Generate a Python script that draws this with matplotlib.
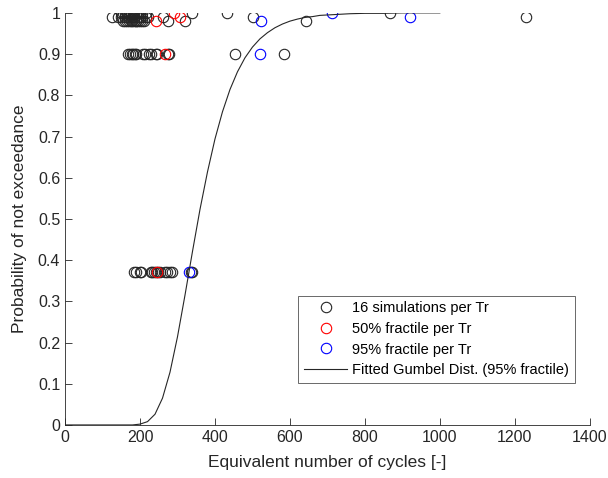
import numpy as np
import matplotlib
matplotlib.use("Agg")
import matplotlib.pyplot as plt

plt.rcParams["font.family"] = ["Liberation Sans", "DejaVu Sans"]

# probability level per return period
p_levels = [0.37, 0.9, 0.98, 0.99, 1.0]

# 16 simulations per Tr (equivalent number of cycles)
sims = [
    [185, 190, 200, 203, 228, 232, 238, 242, 248, 252, 268, 272, 280, 285, 335, 338],
    [168, 172, 178, 182, 187, 190, 208, 212, 225, 230, 243, 246, 275, 278, 453, 584],
    [155, 160, 165, 170, 175, 178, 185, 190, 195, 200, 205, 210, 276, 320, 644, 190],
    [125, 140, 150, 160, 165, 170, 178, 185, 195, 205, 215, 222, 262, 502, 1231, 200],
    [150, 155, 160, 165, 175, 180, 185, 195, 200, 205, 215, 338, 433, 868, 170, 190],
]
# 50% and 95% fractile per Tr
frac50 = [245, 267, 243, 307, 291]
frac95 = [330, 520, 524, 920, 711]

# fitted Gumbel curve
gumbel_x = [0, 100, 180, 200, 220, 240, 260, 280, 300, 320, 340, 360, 380, 400,
            420, 440, 460, 480, 500, 520, 540, 560, 580, 600, 620, 640, 660, 680,
            700, 720, 740, 760, 800, 850, 900, 950, 1000]
gumbel_y = [0, 0, 0, 0.002, 0.008, 0.026, 0.065, 0.128, 0.214, 0.315, 0.421, 0.523,
            0.614, 0.694, 0.760, 0.814, 0.857, 0.891, 0.917, 0.937, 0.952, 0.964,
            0.973, 0.980, 0.985, 0.989, 0.991, 0.994, 0.995, 0.996, 0.997, 0.998,
            0.999, 0.999, 1.0, 1.0, 1.0]

fig = plt.figure(figsize=(6.08, 4.78), dpi=100)
ax = fig.add_axes([0.107, 0.111, 0.863, 0.862])

ms = 7.5
for i, p in enumerate(p_levels):
    ax.plot(sims[i], [p] * len(sims[i]), "o", mfc="none", mec="#262626", ms=ms, mew=0.8,
            label="16 simulations per Tr" if i == 0 else None)
ax.plot(frac50, p_levels, "o", mfc="none", mec="#ff0000", ms=ms, mew=0.8,
        label="50% fractile per Tr")
ax.plot(frac95, p_levels, "o", mfc="none", mec="#0000ff", ms=ms, mew=0.8,
        label="95% fractile per Tr")
ax.plot(gumbel_x, gumbel_y, "-", color="#262626", lw=0.8,
        label="Fitted Gumbel Dist. (95% fractile)")

ax.set_xlim(0, 1400)
ax.set_ylim(0, 1)
ax.set_xticks(np.arange(0, 1401, 200))
ax.set_yticks(np.arange(0, 1.01, 0.1))
ax.set_yticklabels(["0", "0.1", "0.2", "0.3", "0.4", "0.5", "0.6", "0.7", "0.8", "0.9", "1"])

for s in ["top", "right"]:
    ax.spines[s].set_visible(False)
for s in ["left", "bottom"]:
    ax.spines[s].set_color("#262626")
    ax.spines[s].set_linewidth(0.6)
ax.tick_params(direction="in", length=5, width=0.6, colors="#262626", labelsize=11.5)

ax.set_xlabel("Equivalent number of cycles [-]", fontsize=12.5, color="#262626", labelpad=7)
ax.set_ylabel("Probability of not exceedance", fontsize=12.5, color="#262626", labelpad=8)

leg = ax.legend(loc="lower right", bbox_to_anchor=(0.971, 0.102), borderaxespad=0,
                fancybox=False, edgecolor="#262626", fontsize=10.5, handlelength=3.0,
                borderpad=0.4, labelspacing=0.45, handletextpad=0.3)
leg.get_frame().set_linewidth(0.6)

fig.savefig("out.png", dpi=100)
